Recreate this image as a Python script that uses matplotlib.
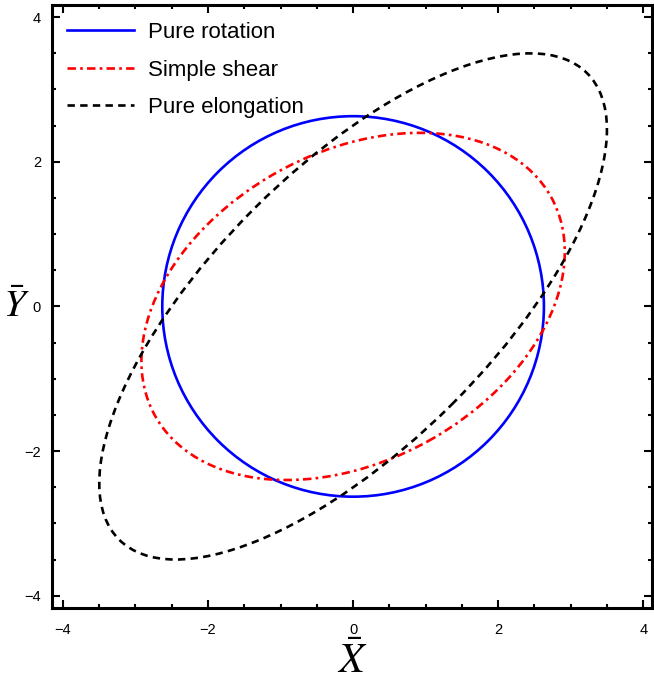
import matplotlib.pyplot as plt
from matplotlib.patches import Ellipse
from matplotlib.lines import Line2D

plt.rcParams['mathtext.fontset'] = 'stix'

# ellipse parameters (full width, full height, tilt in degrees)
labels = ['Pure rotation', 'Simple shear', 'Pure elongation']
widths = [5.26, 6.24, 9.12]
heights = [5.26, 4.26, 3.84]
angles = [0, 29, 45]
colors = ['#0000ff', '#ff0000', 'black']
styles = ['-', (0, (3.2, 1.6, 1.0, 1.6)), (0, (2.8, 2.0))]

tick_vals = [-4, -2, 0, 2, 4]

fig = plt.figure(figsize=(6.54, 6.84), dpi=100)
ax = fig.add_axes([0.0795, 0.111, 0.9175, 0.882])

handles = []
for w, h, a, c, ls, lab in zip(widths, heights, angles, colors, styles, labels):
    ax.add_patch(Ellipse((0, 0), w, h, angle=a, fill=False, edgecolor=c,
                         linestyle=ls, linewidth=1.9))
    handles.append(Line2D([], [], color=c, linestyle=ls, linewidth=1.9))

ax.set_xlim(-4.15, 4.12)
ax.set_ylim(-4.17, 4.17)
ax.set_xticks(tick_vals)
ax.set_yticks(tick_vals)
ax.set_xticks([v + d for v in tick_vals[:-1] for d in (0.5, 1.0, 1.5)], minor=True)
ax.set_yticks([v + d for v in tick_vals[:-1] for d in (0.5, 1.0, 1.5)], minor=True)
ax.set_xticklabels(['\u22124', '\u22122', '0', '2', '4'])
ax.set_yticklabels(['\u22124', '\u22122', '0', '2', '4'])
ax.tick_params(which='both', direction='in', top=True, right=True, width=1.5)
ax.tick_params(which='major', length=6, labelsize=10.5)
ax.tick_params(axis='x', which='major', pad=11)
ax.tick_params(axis='y', which='major', pad=8)
ax.tick_params(which='minor', length=3)
for lab in ax.get_xticklabels() + ax.get_yticklabels():
    lab.set_family('Liberation Sans')
for s in ax.spines.values():
    s.set_linewidth(2.2)

ax.set_xlabel(r'$\bar{X}$', fontsize=30, labelpad=2)
ax.set_ylabel(r'$\bar{Y}$', fontsize=28, rotation=0, labelpad=6, va='center')

leg = ax.legend(handles, labels, loc='upper left', bbox_to_anchor=(0.011, 0.986),
                frameon=False, handlelength=3.0, handletextpad=0.63,
                labelspacing=0.74, borderaxespad=0,
                prop={'family': 'Liberation Sans', 'size': 16})

fig.savefig('out.png')
